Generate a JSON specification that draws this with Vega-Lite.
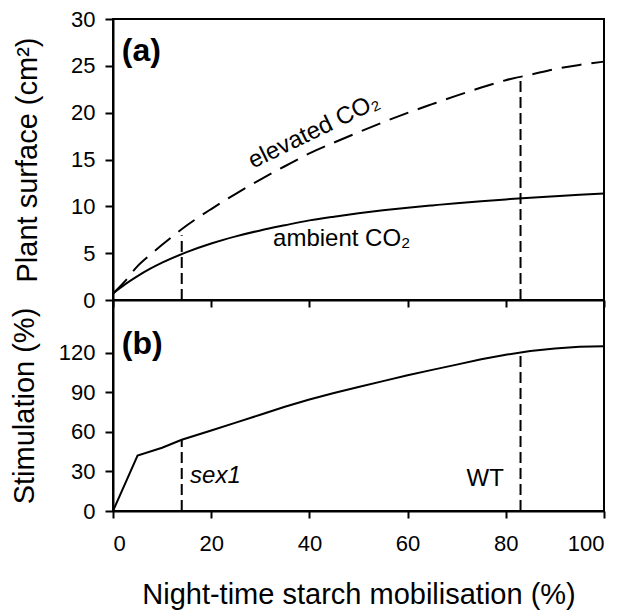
{
  "$schema": "https://vega.github.io/schema/vega-lite/v6.json",
  "background": "white",
  "padding": {"left": 9, "top": 7, "right": 5, "bottom": 0},
  "spacing": 0,
  "bounds": "flush",
  "config": {
    "font": "Liberation Sans",
    "view": {"stroke": "black", "strokeWidth": 2},
    "axis": {
      "domainColor": "black", "domainWidth": 2,
      "tickColor": "black", "tickWidth": 2, "tickSize": 8,
      "labelFont": "Liberation Sans", "labelFontSize": 22, "labelColor": "black", "labelPadding": 10,
      "titleFont": "Liberation Sans", "titleFontSize": 29, "titleFontWeight": "normal", "titleColor": "black",
      "grid": false
    }
  },
  "datasets": {
    "ambient": [
      {"x": 0, "y": 0.7}, {"x": 2.5, "y": 1.69}, {"x": 5, "y": 2.55}, {"x": 7.5, "y": 3.31},
      {"x": 10, "y": 3.98}, {"x": 15, "y": 5.11}, {"x": 20, "y": 6.03}, {"x": 25, "y": 6.79},
      {"x": 30, "y": 7.43}, {"x": 35, "y": 7.98}, {"x": 40, "y": 8.5}, {"x": 45, "y": 8.9},
      {"x": 50, "y": 9.25}, {"x": 55, "y": 9.57}, {"x": 60, "y": 9.85}, {"x": 65, "y": 10.1},
      {"x": 70, "y": 10.34}, {"x": 75, "y": 10.55}, {"x": 80, "y": 10.74}, {"x": 85, "y": 10.92},
      {"x": 90, "y": 11.08}, {"x": 95, "y": 11.23}, {"x": 100, "y": 11.37}
    ],
    "elevated": [
      {"x": 0, "y": 0.7}, {"x": 2.5, "y": 2.05}, {"x": 5, "y": 3.62}, {"x": 7.5, "y": 4.8},
      {"x": 10, "y": 5.89}, {"x": 15, "y": 7.95}, {"x": 20, "y": 9.71}, {"x": 25, "y": 11.34},
      {"x": 30, "y": 12.85}, {"x": 35, "y": 14.28}, {"x": 40, "y": 15.65}, {"x": 45, "y": 16.81},
      {"x": 50, "y": 17.91}, {"x": 55, "y": 18.98}, {"x": 60, "y": 19.98}, {"x": 65, "y": 20.91},
      {"x": 70, "y": 21.82}, {"x": 75, "y": 22.68}, {"x": 80, "y": 23.47}, {"x": 85, "y": 24.05},
      {"x": 90, "y": 24.65}, {"x": 95, "y": 25.1}, {"x": 100, "y": 25.45}
    ],
    "stimulation": [
      {"x": 0, "y": 0}, {"x": 5, "y": 42}, {"x": 10, "y": 48}, {"x": 14, "y": 54},
      {"x": 20, "y": 61}, {"x": 25, "y": 67}, {"x": 30, "y": 73}, {"x": 35, "y": 79},
      {"x": 40, "y": 84.5}, {"x": 45, "y": 89.5}, {"x": 50, "y": 94}, {"x": 55, "y": 98.5},
      {"x": 60, "y": 103}, {"x": 65, "y": 107}, {"x": 70, "y": 111}, {"x": 75, "y": 115},
      {"x": 80, "y": 118.5}, {"x": 85, "y": 121.3}, {"x": 90, "y": 123.3}, {"x": 95, "y": 124.5},
      {"x": 100, "y": 125}
    ],
    "markersTop": [
      {"x": 14, "y0": 0, "y1": 6.9},
      {"x": 83, "y0": 0, "y1": 23.7}
    ],
    "markersBottom": [
      {"x": 14, "y0": 0, "y1": 54},
      {"x": 83, "y0": 0, "y1": 120}
    ],
    "labelsTop": [
      {"x": 32.6, "y": 5.8, "label": "ambient CO₂"}
    ],
    "panelTop": [
      {"x": 1.8, "y": 25.5, "label": "(a)"}
    ],
    "rotatedTop": [
      {"x": 28.5, "y": 14.0, "label": "elevated CO₂"}
    ],
    "panelBottom": [
      {"x": 1.8, "y": 119, "label": "(b)"}
    ],
    "italicBottom": [
      {"x": 15.7, "y": 21.5, "label": "sex1"}
    ],
    "plainBottom": [
      {"x": 79.6, "y": 18.7, "label": "WT"}
    ]
  },
  "vconcat": [
    {
      "width": 491,
      "height": 281,
      "encoding": {
        "x": {"field": "x", "type": "quantitative",
              "scale": {"domain": [0, 100]},
              "axis": {"values": [0, 20, 40, 60, 80, 100], "labels": false, "title": null, "tickSize": 7}}
      },
      "layer": [
        {
          "data": {"name": "ambient"},
          "mark": {"type": "line", "color": "black", "strokeWidth": 2, "interpolate": "monotone"},
          "encoding": {
            "y": {"field": "y", "type": "quantitative", "scale": {"domain": [0, 30]},
                  "axis": {"values": [0, 5, 10, 15, 20, 25, 30], "title": "Plant surface (cm²)", "titlePadding": 28}}
          }
        },
        {
          "data": {"name": "elevated"},
          "mark": {"type": "line", "color": "black", "strokeWidth": 2, "strokeDash": [20, 10], "interpolate": "monotone"},
          "encoding": {"y": {"field": "y", "type": "quantitative"}}
        },
        {
          "data": {"name": "markersTop"},
          "mark": {"type": "rule", "color": "black", "strokeWidth": 2, "strokeDash": [11, 5]},
          "encoding": {"y": {"field": "y0", "type": "quantitative"}, "y2": {"field": "y1"}}
        },
        {
          "data": {"name": "labelsTop"},
          "mark": {"type": "text", "align": "left", "baseline": "alphabetic", "fontSize": 24, "color": "black"},
          "encoding": {"y": {"field": "y", "type": "quantitative"}, "text": {"field": "label"}}
        },
        {
          "data": {"name": "rotatedTop"},
          "mark": {"type": "text", "align": "left", "baseline": "alphabetic", "fontSize": 24, "angle": -26, "color": "black"},
          "encoding": {"y": {"field": "y", "type": "quantitative"}, "text": {"field": "label"}}
        },
        {
          "data": {"name": "panelTop"},
          "mark": {"type": "text", "align": "left", "baseline": "alphabetic", "fontSize": 32, "fontWeight": "bold", "color": "black"},
          "encoding": {"y": {"field": "y", "type": "quantitative"}, "text": {"field": "label"}}
        }
      ]
    },
    {
      "width": 491,
      "height": 211,
      "encoding": {
        "x": {"field": "x", "type": "quantitative",
              "scale": {"domain": [0, 100]},
              "axis": {"values": [0, 20, 40, 60, 80, 100], "title": "Night-time starch mobilisation (%)", "tickSize": 7, "labelPadding": 15, "titlePadding": 26}}
      },
      "layer": [
        {
          "data": {"name": "stimulation"},
          "mark": {"type": "line", "color": "black", "strokeWidth": 2},
          "encoding": {
            "y": {"field": "y", "type": "quantitative", "scale": {"domain": [0, 150]},
                  "axis": {"values": [0, 30, 60, 90, 120], "title": "Stimulation (%)", "titlePadding": 19}}
          }
        },
        {
          "data": {"name": "markersBottom"},
          "mark": {"type": "rule", "color": "black", "strokeWidth": 2, "strokeDash": [11, 5]},
          "encoding": {"y": {"field": "y0", "type": "quantitative"}, "y2": {"field": "y1"}}
        },
        {
          "data": {"name": "panelBottom"},
          "mark": {"type": "text", "align": "left", "baseline": "alphabetic", "fontSize": 32, "fontWeight": "bold", "color": "black"},
          "encoding": {"y": {"field": "y", "type": "quantitative"}, "text": {"field": "label"}}
        },
        {
          "data": {"name": "italicBottom"},
          "mark": {"type": "text", "align": "left", "baseline": "alphabetic", "fontSize": 24, "fontStyle": "italic", "color": "black"},
          "encoding": {"y": {"field": "y", "type": "quantitative"}, "text": {"field": "label"}}
        },
        {
          "data": {"name": "plainBottom"},
          "mark": {"type": "text", "align": "right", "baseline": "alphabetic", "fontSize": 24, "color": "black"},
          "encoding": {"y": {"field": "y", "type": "quantitative"}, "text": {"field": "label"}}
        }
      ]
    }
  ]
}
